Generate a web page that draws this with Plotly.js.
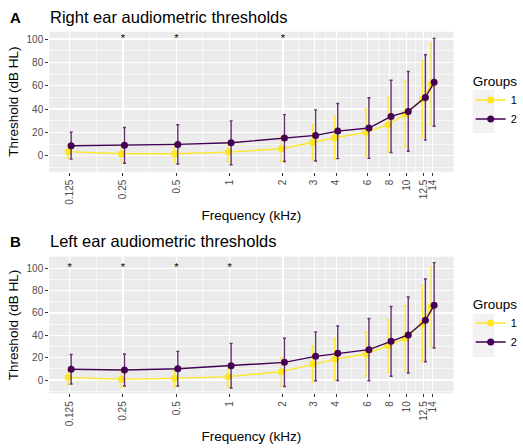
<!DOCTYPE html>
<html>
<head>
<meta charset="utf-8">
<script src="https://cdn.plot.ly/plotly-3.0.1.min.js"></script>
<style>
  html, body { margin: 0; padding: 0; background: #ffffff; }
  #chart { width: 523px; height: 448px; }
</style>
</head>
<body>
<div id="chart"></div>
<script>
// Test frequencies (kHz) and their axis labels
const freqs = [0.125, 0.25, 0.5, 1, 2, 3, 4, 6, 8, 10, 12.5, 14];
const freqLabels = ['0.125', '0.25', '0.5', '1', '2', '3', '4', '6', '8', '10', '12.5', '14'];
const groupNames = ['1', '2'];

// Right ear: mean threshold (dB HL) and SD per group
const rightMean1 = [3.5, 1.7, 1.7, 3.1, 6.0, 11.4, 15.4, 20.0, 26.6, 35.7, 48.3, 61.1];
const rightSd1   = [5.8, 7.0, 7.4, 8.3, 10.5, 15.1, 18.2, 19.8, 23.5, 28.0, 33.0, 35.0];
const rightMean2 = [8.6, 8.9, 9.7, 11.1, 15.1, 17.4, 21.1, 23.7, 33.7, 38.0, 50.0, 62.9];
const rightSd2   = [11.5, 15.3, 16.8, 18.8, 20.1, 21.9, 23.6, 26.0, 31.0, 34.2, 36.6, 37.7];

// Left ear: mean threshold (dB HL) and SD per group
const leftMean1 = [2.4, 0.6, 1.5, 3.0, 7.5, 14.3, 18.5, 23.3, 30.7, 37.3, 50.7, 65.7];
const leftSd1   = [6.5, 6.8, 7.5, 9.0, 12.5, 16.0, 18.5, 19.6, 23.6, 29.0, 34.0, 35.5];
const leftMean2 = [9.6, 9.0, 10.1, 12.8, 15.8, 21.2, 23.9, 27.2, 34.6, 40.3, 53.4, 66.9];
const leftSd2   = [13.2, 14.3, 15.5, 20.0, 21.6, 21.9, 24.4, 27.9, 31.2, 34.0, 37.0, 38.2];

// Frequencies with a significant group difference
const sigRight = [0.25, 0.5, 2];
const sigLeft = [0.125, 0.25, 0.5, 1];
const starLevel = 100;

const colors = ['#FDE725', '#440154'];
const barColors = ['rgba(253,231,37,0.9)', 'rgba(68,1,84,0.8)'];
const FONT = 'Liberation Sans, Arial, sans-serif';

// small horizontal dodge on the log axis so the two groups don't overlap
const dodge = [-0.0085, 0.0085];
const dodged = (g) => freqs.map(f => f * Math.pow(10, dodge[g]));

// minor grid lines sit halfway (in log space) between labelled frequencies
const minorFreqs = freqs.slice(1).map((f, i) => Math.sqrt(f * freqs[i]));

function groupTrace(g, mean, sd, xa, ya, legendId) {
  return {
    type: 'scatter', mode: 'lines+markers',
    x: dodged(g), y: mean,
    xaxis: xa, yaxis: ya,
    name: groupNames[g], legend: legendId,
    line: { color: colors[g], width: 1.4 },
    marker: { color: colors[g], size: 7 },
    error_y: { type: 'data', array: sd, visible: true, color: barColors[g], thickness: 1.4, width: 1.5 },
    hoverinfo: 'x+y'
  };
}

function starTrace(sig, xa, ya) {
  return {
    type: 'scatter', mode: 'text',
    x: sig, y: sig.map(() => starLevel),
    text: sig.map(() => '*'),
    textfont: { family: FONT, size: 11, color: '#000000' },
    xaxis: xa, yaxis: ya, showlegend: false, hoverinfo: 'skip'
  };
}

const data = [
  groupTrace(0, rightMean1, rightSd1, 'x', 'y', 'legend'),
  groupTrace(1, rightMean2, rightSd2, 'x', 'y', 'legend'),
  starTrace(sigRight, 'x', 'y'),
  groupTrace(0, leftMean1, leftSd1, 'x2', 'y2', 'legend2'),
  groupTrace(1, leftMean2, leftSd2, 'x2', 'y2', 'legend2'),
  starTrace(sigLeft, 'x2', 'y2')
];

const W = 523, H = 448;
const px = (x) => x / W;
const py = (y) => 1 - y / H;

function xAxis(anchor) {
  return {
    domain: [px(50), px(460.7)], anchor: anchor,
    type: 'log', range: [-1.0183, 1.265],
    tickmode: 'array', tickvals: freqs, ticktext: freqLabels,
    tickangle: -90, ticks: 'outside', ticklen: 3, tickwidth: 1, tickcolor: '#333333',
    tickfont: { family: FONT, size: 10, color: '#4D4D4D' },
    showgrid: true, gridcolor: '#FFFFFF', gridwidth: 1.2,
    minor: { tickvals: minorFreqs, showgrid: true, gridcolor: '#FFFFFF', gridwidth: 0.6, ticks: '' },
    zeroline: false, showline: false,
    title: { text: 'Frequency (kHz)', font: { family: FONT, size: 13.5, color: '#000000' }, standoff: 6 }
  };
}

function yAxis(range, anchor, domain) {
  return {
    domain: domain, anchor: anchor, range: range,
    tickmode: 'linear', tick0: 0, dtick: 20,
    ticks: 'outside', ticklen: 3, tickwidth: 1, tickcolor: '#333333',
    tickfont: { family: FONT, size: 10, color: '#4D4D4D' },
    showgrid: true, gridcolor: '#FFFFFF', gridwidth: 1.2,
    minor: { tick0: 0, dtick: 10, showgrid: true, gridcolor: '#FFFFFF', gridwidth: 0.6, ticks: '' },
    zeroline: false, showline: false,
    title: { text: 'Threshold (dB HL)', font: { family: FONT, size: 13.5, color: '#000000' }, standoff: 4 }
  };
}

function legendBox(top) {
  return {
    x: px(478), y: py(top), xanchor: 'left', yanchor: 'top',
    bgcolor: 'rgba(0,0,0,0)', borderwidth: 0,
    title: { text: 'Groups', font: { family: FONT, size: 13.5, color: '#000000' } },
    font: { family: FONT, size: 11, color: '#000000' },
    itemwidth: 30, tracegroupgap: 0
  };
}

const layout = {
  width: W, height: H,
  margin: { l: 0, r: 0, t: 0, b: 0 },
  paper_bgcolor: '#FFFFFF', plot_bgcolor: '#EBEBEB',
  font: { family: FONT },
  xaxis: xAxis('y'),
  yaxis: yAxis([-13.7, 106.3], 'x', [py(171.7), py(31.7)]),
  xaxis2: xAxis('y2'),
  yaxis2: yAxis([-11.9, 110.4], 'x2', [py(393.3), py(256.7)]),
  legend: legendBox(68),
  legend2: legendBox(291),
  shapes: [
    { type: 'rect', xref: 'paper', yref: 'paper', x0: px(480), x1: px(502), y0: py(133), y1: py(90),
      fillcolor: '#F2F2F2', line: { width: 0 }, layer: 'below' },
    { type: 'rect', xref: 'paper', yref: 'paper', x0: px(480), x1: px(502), y0: py(357), y1: py(314),
      fillcolor: '#F2F2F2', line: { width: 0 }, layer: 'below' }
  ],
  annotations: [
    { text: '<b>A</b>', xref: 'paper', yref: 'paper', x: px(8), y: py(17), xanchor: 'left', yanchor: 'middle',
      showarrow: false, font: { family: FONT, size: 15, color: '#000000' } },
    { text: 'Right ear audiometric thresholds', xref: 'paper', yref: 'paper', x: px(49), y: py(17),
      xanchor: 'left', yanchor: 'middle', showarrow: false, font: { family: FONT, size: 16.5, color: '#000000' } },
    { text: '<b>B</b>', xref: 'paper', yref: 'paper', x: px(8), y: py(241), xanchor: 'left', yanchor: 'middle',
      showarrow: false, font: { family: FONT, size: 15, color: '#000000' } },
    { text: 'Left ear audiometric thresholds', xref: 'paper', yref: 'paper', x: px(49), y: py(241),
      xanchor: 'left', yanchor: 'middle', showarrow: false, font: { family: FONT, size: 16.5, color: '#000000' } }
  ],
  showlegend: true
};

Plotly.newPlot('chart', data, layout, { staticPlot: true, displayModeBar: false });
</script>
</body>
</html>
